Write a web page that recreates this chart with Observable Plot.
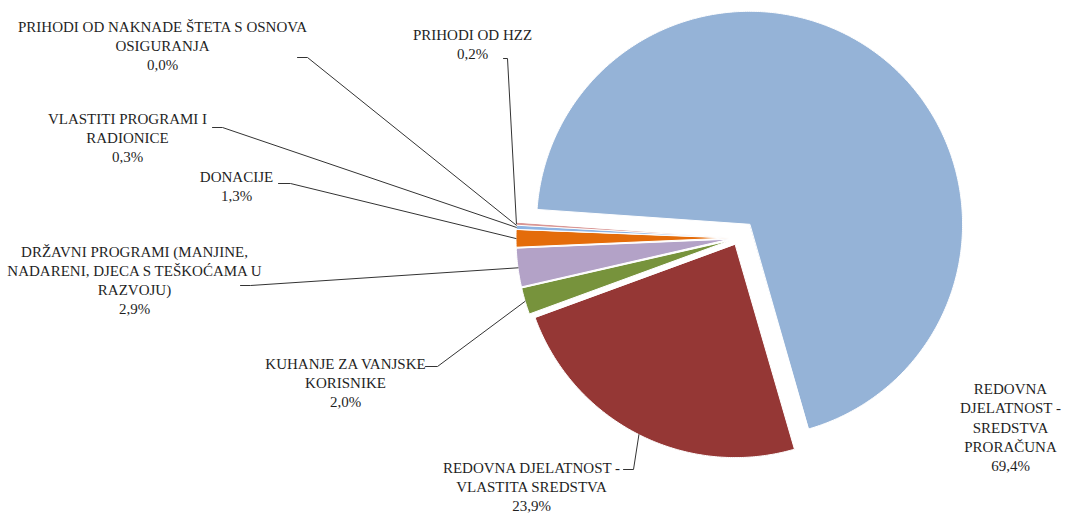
<!DOCTYPE html>
<html>
<head>
<meta charset="utf-8">
<script src="https://cdn.jsdelivr.net/npm/d3@7"></script>
<script src="https://cdn.jsdelivr.net/npm/@observablehq/plot@0.6"></script>
<style>
  html, body { margin: 0; padding: 0; background: #ffffff; }
  #chart svg { display: block; }
</style>
</head>
<body>
<div id="chart"></div>
<script>
// ---- Data ----
const categories = [
  "REDOVNA DJELATNOST - SREDSTVA PRORAČUNA",
  "REDOVNA DJELATNOST - VLASTITA SREDSTVA",
  "KUHANJE ZA VANJSKE KORISNIKE",
  "DRŽAVNI PROGRAMI (MANJINE, NADARENI, DJECA S TEŠKOĆAMA U RAZVOJU)",
  "DONACIJE",
  "VLASTITI PROGRAMI I RADIONICE",
  "PRIHODI OD NAKNADE ŠTETA S OSNOVA OSIGURANJA",
  "PRIHODI OD HZZ"
];
const values = [69.4, 23.9, 2.0, 2.9, 1.3, 0.3, 0.0, 0.2];
const labelLines = [
  ["REDOVNA", "DJELATNOST -", "SREDSTVA", "PRORAČUNA"],
  ["REDOVNA DJELATNOST -", "VLASTITA SREDSTVA"],
  ["KUHANJE ZA VANJSKE", "KORISNIKE"],
  ["DRŽAVNI PROGRAMI (MANJINE,", "NADARENI, DJECA S TEŠKOĆAMA U", "RAZVOJU)"],
  ["DONACIJE"],
  ["VLASTITI PROGRAMI I", "RADIONICE"],
  ["PRIHODI OD NAKNADE ŠTETA S OSNOVA", "OSIGURANJA"],
  ["PRIHODI OD HZZ"]
];
const colors = ["#95B3D7", "#953735", "#77933C", "#B3A2C7", "#E46C0A", "#8EB4E3", "#4BACC6", "#D99694"];

// ---- Layout (pixel space) ----
const W = 1068, H = 513;
const pie = {cx: 738, cy: 237.5, r: 213, startDeg: -86};
const explode = [17.6, 7.4, 9.5, 9.5, 9.5, 9.5, 9.5, 9.5];
// label block centers
const labelPos = [[1010, 425.9], [531, 485.5], [345, 381.2], [134, 278.8], [236, 184.6], [127, 136.5], [162, 44.2], [472, 42.6]];
// leader start (label side): two points each, or null
const leaderStart = [
  null,
  [[623, 469], [633, 469]],
  [[425, 366], [437, 366]],
  [[240, 285], [250, 285]],
  [[278, 183], [290, 183]],
  [[212, 127], [222, 127]],
  [[297, 57], [307, 57]],
  [[503, 58], [507, 58]]
];

// ---- Geometry ----
const rad = d => d * Math.PI / 180;
const total = d3.sum(values);
let acc = pie.startDeg;
const slices = values.map((v, i) => {
  const a0 = acc, a1 = acc + v / total * 360;
  acc = a1;
  const mid = (a0 + a1) / 2;
  const ox = pie.cx + explode[i] * Math.sin(rad(mid));
  const oy = pie.cy - explode[i] * Math.cos(rad(mid));
  return {i, name: categories[i], value: v, a0, a1, mid, ox, oy};
});

const slicePts = [];
for (const s of slices) {
  if (s.value <= 0) continue;
  slicePts.push({name: s.name, x: s.ox, y: s.oy});
  const n = Math.max(2, Math.ceil((s.a1 - s.a0) / 0.5));
  for (let k = 0; k <= n; k++) {
    const a = s.a0 + (s.a1 - s.a0) * k / n;
    slicePts.push({name: s.name, x: s.ox + pie.r * Math.sin(rad(a)), y: s.oy - pie.r * Math.cos(rad(a))});
  }
}

const leaderPts = [];
slices.forEach((s, i) => {
  const st = leaderStart[i];
  if (!st) return;
  for (const p of st) leaderPts.push({name: s.name, x: p[0], y: p[1]});
  leaderPts.push({name: s.name, x: s.ox + pie.r * Math.sin(rad(s.mid)), y: s.oy - pie.r * Math.cos(rad(s.mid))});
});

const fmt = v => v.toFixed(1).replace(".", ",") + "%";
const labels = slices.map((s, i) => ({
  x: labelPos[i][0], y: labelPos[i][1],
  text: [...labelLines[i], fmt(s.value)].join("\n")
}));

const chart = Plot.plot({
  width: W, height: H,
  margin: 0,
  x: {domain: [0, W], range: [0, W], axis: null},
  y: {domain: [0, H], range: [0, H], axis: null},
  color: {domain: categories, range: colors},
  style: {background: "#ffffff"},
  marks: [
    Plot.line(slicePts, {x: "x", y: "y", z: "name", fill: "name", stroke: "white", strokeWidth: 1, curve: "linear-closed"}),
    Plot.line(leaderPts, {x: "x", y: "y", z: "name", stroke: "#333333", strokeWidth: 1}),
    Plot.text(labels, {x: "x", y: "y", text: "text", textAnchor: "middle", lineAnchor: "middle", lineHeight: 1.27,
      fontSize: 15, fontFamily: "Liberation Serif", fill: "#1f1f1f"})
  ]
});
document.getElementById("chart").appendChild(chart);
</script>
</body>
</html>
